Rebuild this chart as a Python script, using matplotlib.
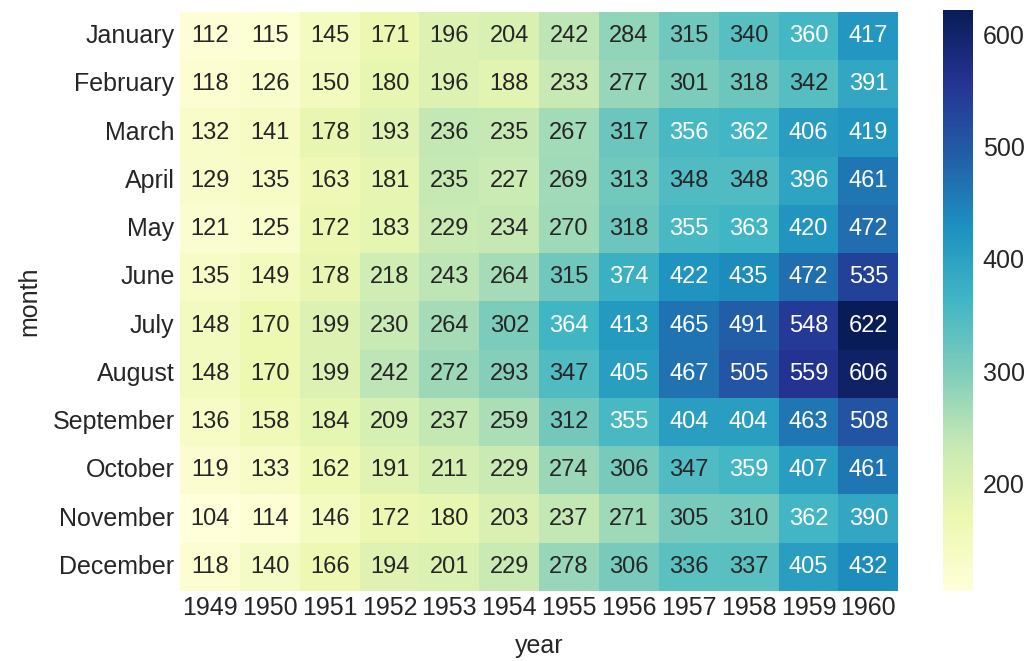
import matplotlib
matplotlib.use("Agg")
from matplotlib import pyplot as plt
import seaborn as sns
import numpy as np
import pandas as pd

months = ["January", "February", "March", "April", "May", "June", "July",
          "August", "September", "October", "November", "December"]
years = list(range(1949, 1961))

jan = [112, 115, 145, 171, 196, 204, 242, 284, 315, 340, 360, 417]
feb = [118, 126, 150, 180, 196, 188, 233, 277, 301, 318, 342, 391]
mar = [132, 141, 178, 193, 236, 235, 267, 317, 356, 362, 406, 419]
apr = [129, 135, 163, 181, 235, 227, 269, 313, 348, 348, 396, 461]
may = [121, 125, 172, 183, 229, 234, 270, 318, 355, 363, 420, 472]
jun = [135, 149, 178, 218, 243, 264, 315, 374, 422, 435, 472, 535]
jul = [148, 170, 199, 230, 264, 302, 364, 413, 465, 491, 548, 622]
aug = [148, 170, 199, 242, 272, 293, 347, 405, 467, 505, 559, 606]
sep = [136, 158, 184, 209, 237, 259, 312, 355, 404, 404, 463, 508]
octo = [119, 133, 162, 191, 211, 229, 274, 306, 347, 359, 407, 461]
nov = [104, 114, 146, 172, 180, 203, 237, 271, 305, 310, 362, 390]
dec = [118, 140, 166, 194, 201, 229, 278, 306, 336, 337, 405, 432]

flights = pd.DataFrame([jan, feb, mar, apr, may, jun, jul, aug, sep, octo, nov, dec],
                       index=pd.Index(months, name="month"),
                       columns=pd.Index(years, name="year"))

sns.set_style("white")
plt.rcParams['font.family'] = ['Liberation Sans', 'DejaVu Sans']
plt.rcParams['text.color'] = '#262626'
plt.rcParams['axes.labelcolor'] = '#262626'
plt.rcParams['xtick.color'] = '#262626'
plt.rcParams['ytick.color'] = '#262626'

fig = plt.figure(figsize=(10.29, 6.61), dpi=100)
ax = fig.add_axes([0.175, 0.106, 0.698, 0.876])
cax = fig.add_axes([0.9164, 0.106, 0.029, 0.879])

sns.heatmap(flights, annot=True, fmt="d", cmap="YlGnBu", ax=ax, cbar_ax=cax,
            annot_kws={"size": 17})

ax.tick_params(axis='both', length=0, labelsize=18, pad=4)
ax.set_yticklabels(months, rotation=0)
ax.set_xticklabels(years, rotation=0)
ax.set_xlabel("year", fontsize=18, labelpad=10)
ax.set_ylabel("month", fontsize=18, labelpad=8)
cax.tick_params(length=0, labelsize=18, pad=7)
cax.set_yticks([200, 300, 400, 500, 600])
for s in cax.spines.values():
    s.set_visible(False)

fig.savefig("out.png", dpi=100)
